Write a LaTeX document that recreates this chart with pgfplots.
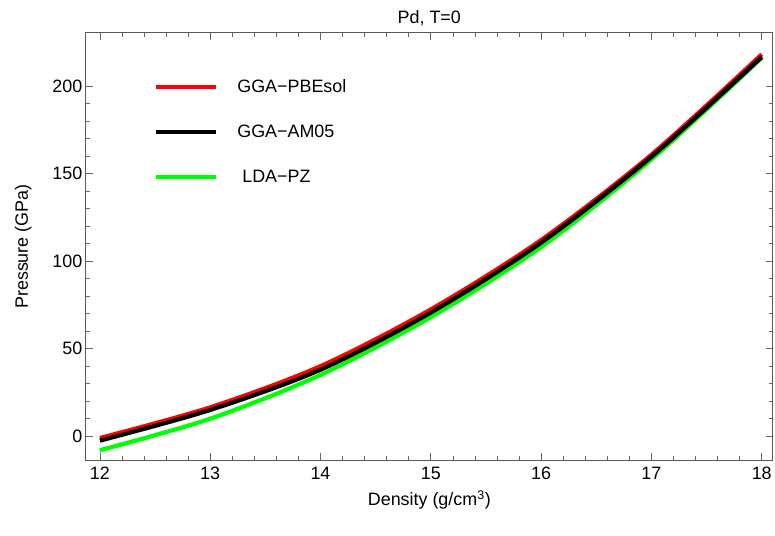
\documentclass[border=0pt]{standalone}
\usepackage{fontspec}
\setmainfont{Liberation Sans}
\usepackage{pgfplots}
\pgfplotsset{compat=1.18}

\newcommand{\chartfont}{\fontsize{18}{21}\selectfont}

\begin{document}
\begin{tikzpicture}
    \begin{axis}[
            scale only axis,
            width=688bp, height=428bp,
            xmin=11.873, xmax=18.1,
            ymin=-13.7, ymax=230.2,
            xtick={12,13,14,15,16,17,18},
            ytick={0,50,100,150,200},
            minor x tick num=4,
            minor y tick num=4,
            tick align=inside,
            major tick length=7bp,
            minor tick length=4bp,
            every tick/.style={black!60, line width=0.7bp},
            axis line style={black!65, line width=0.9bp},
            /pgf/number format/assume math mode=true,
            tick label style={font=\chartfont},
            xticklabel style={yshift=-3bp},
            title={Pd, T=0},
            title style={font=\chartfont, yshift=-2bp},
            xlabel={Density (g/cm\textsuperscript{3})},
            ylabel={Pressure (GPa)},
            label style={font=\chartfont},
            xlabel style={yshift=-4bp},
            ylabel style={yshift=14bp},
            legend cell align=left,
            legend style={draw=none, fill=none, font=\chartfont,
                at={(rel axis cs:0.095,0.90)}, anchor=north west,
                row sep=27bp},
            legend image code/.code={
                \draw[#1, line width=4.2bp] (0bp,0bp) -- (60bp,0bp);
            },
        ]

        % values, x = density in g/cm^3
        \addplot[green, line width=4.2bp, smooth, forget plot] coordinates {
            (12,-8) (13,10) (14,35) (15,68) (16,108) (17,158) (18,216)};
        \addplot[red, line width=4.2bp, smooth] coordinates {
            (12,-1) (13,16.5) (14,40) (15,72.4) (16,112) (17,160.7) (18,218)};
        \addlegendentry{\hspace{17bp}GGA−PBEsol};
        \addplot[black, line width=4.2bp, smooth] coordinates {
            (12,-2.5) (13,15) (14,38) (15,70.6) (16,110.5) (17,159.5) (18,216.5)};
        \addlegendentry{\hspace{17bp}GGA−AM05};
        \addlegendimage{green, line width=4.2bp}
        \addlegendentry{\hspace{22bp}LDA−PZ};
    \end{axis}
    \path ([shift={(-86bp,-75bp)}]current axis.south west)
        rectangle ([shift={(1bp,33bp)}]current axis.north east);
\end{tikzpicture}
\end{document}
